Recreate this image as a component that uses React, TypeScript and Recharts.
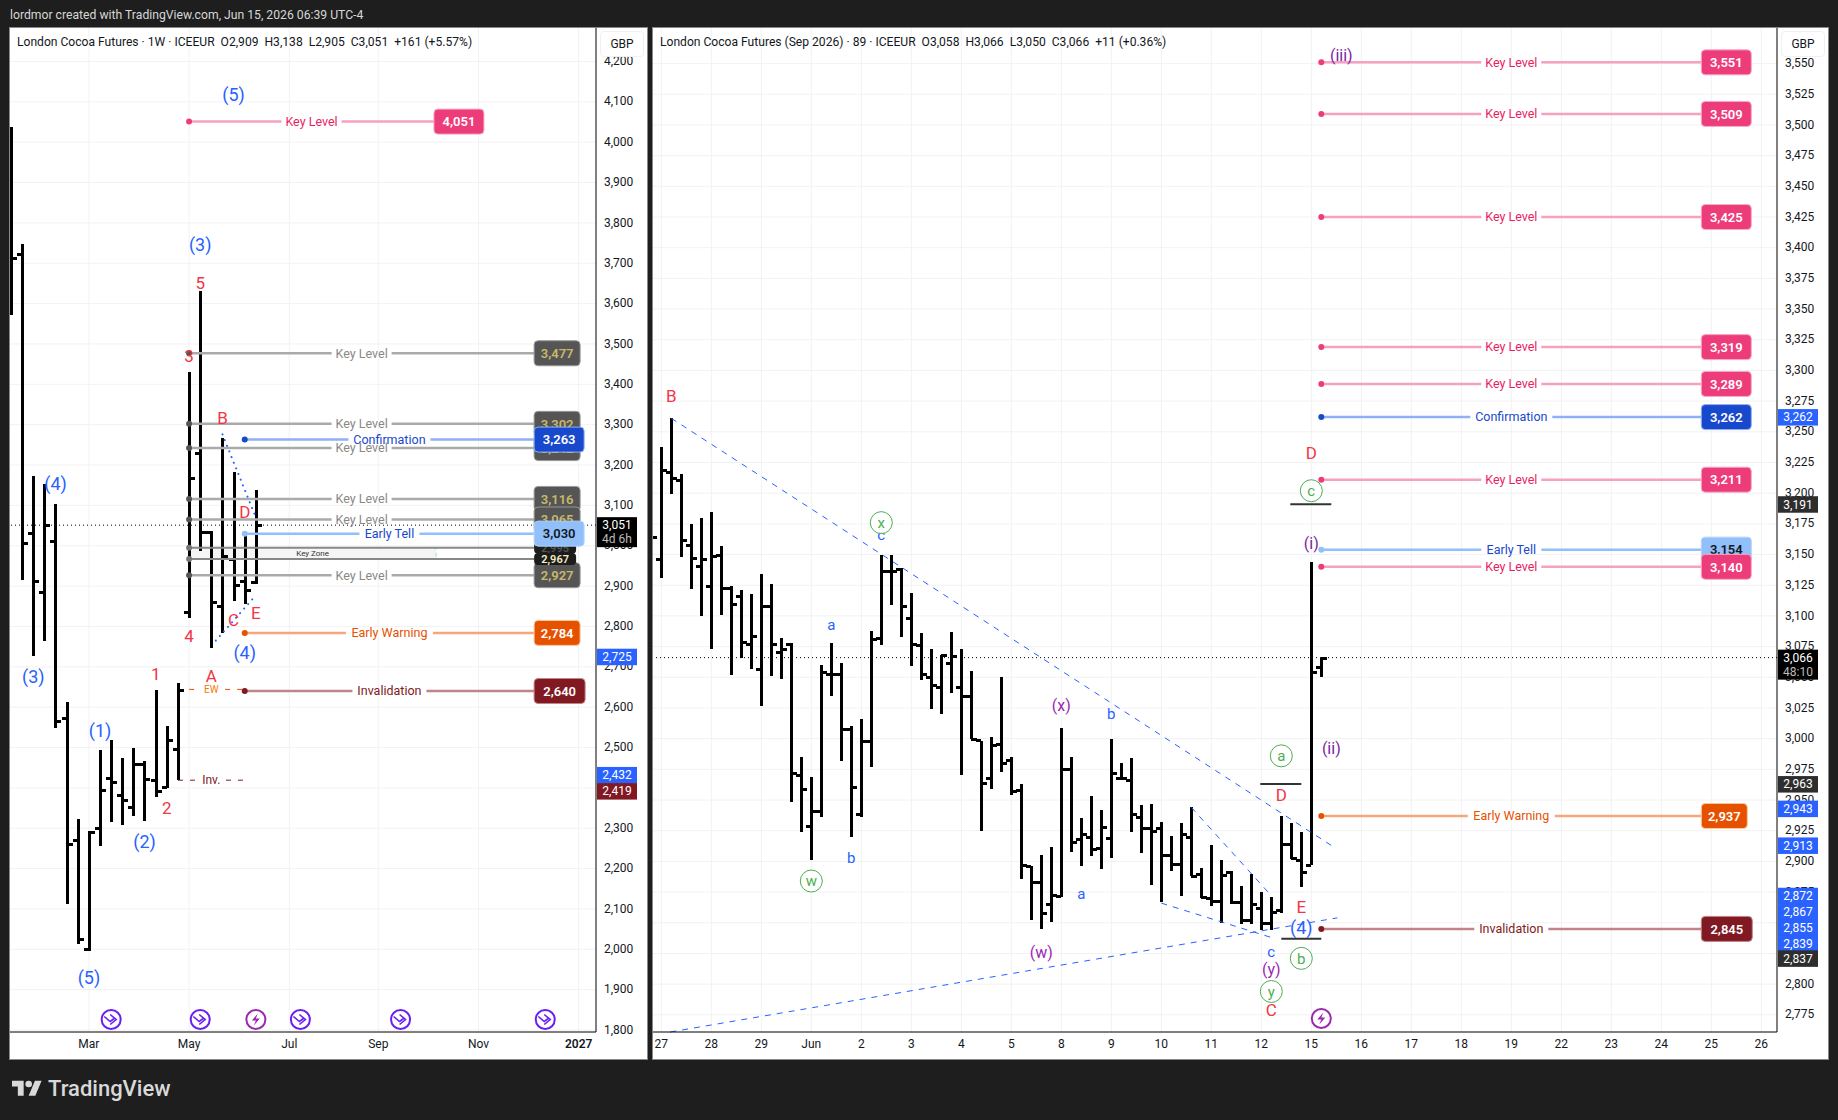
import React from "react";
import {
  Bar,
  CartesianGrid,
  ComposedChart,
  ReferenceArea,
  ReferenceDot,
  ReferenceLine,
  XAxis,
  YAxis
} from "recharts";

const FONT = "Roboto, sans-serif";

// weekly bars, left pane
const leftOpen = [3900, 3723, 3031, 2885, 3011, 2572, 2270, 2000, 2300, 2424, 2382, 2352, 2459, 2420, 2401, 2496, 2835, 3229, 3033, 2850, 2966, 2913, 2909];
const leftHigh = [4038, 3748, 3173, 3153, 3103, 2612, 2322, 2294, 2493, 2518, 2473, 2500, 2466, 2643, 2553, 2659, 3431, 3631, 3037, 3266, 3182, 3033, 3138];
const leftLow = [3572, 2915, 2728, 2765, 2549, 2111, 2012, 1995, 2257, 2316, 2309, 2331, 2319, 2378, 2399, 2419, 2822, 2988, 2746, 2783, 2864, 2856, 2905];
const leftClose = [3712, 3006, 2913, 3051, 2565, 2260, 2025, 2291, 2395, 2414, 2370, 2459, 2422, 2392, 2519, 2643, 3167, 3033, 2860, 2975, 2902, 2890, 3051];

// 89 minute bars, right pane (first one sits just off the left edge)
const rightOpen = [3170, 3146, 3217, 3211, 3158, 3141, 3124, 3150, 3123, 3116, 3077, 3057, 3108, 3071, 3077, 2970, 2929, 2941, 3053, 3053, 3008, 2939, 2998, 3082, 3137, 3138, 3098, 3076, 3050, 3042, 3062, 3042, 3035, 2999, 2968, 2996, 2983, 2958, 2896, 2883, 2865, 2872, 2975, 2918, 2920, 2911, 2919, 2968, 2966, 2936, 2927, 2927, 2905, 2898, 2920, 2890, 2870, 2868, 2891, 2867, 2852, 2862, 2850, 2860, 2914, 2901, 2897, 3058];
const rightHigh = [3175, 3238, 3261, 3216, 3175, 3180, 3185, 3157, 3124, 3121, 3118, 3134, 3126, 3082, 3078, 2985, 2969, 3060, 3078, 3062, 3010, 3016, 3088, 3150, 3150, 3139, 3119, 3086, 3073, 3068, 3087, 3073, 3055, 2998, 3001, 3050, 2985, 2963, 2896, 2905, 2912, 3009, 2985, 2935, 2953, 2942, 3000, 2980, 2984, 2946, 2947, 2932, 2921, 2931, 2944, 2895, 2913, 2901, 2892, 2880, 2890, 2875, 2871, 2937, 2931, 2924, 3144, 3066];
const rightLow = [3150, 3131, 3199, 3148, 3122, 3100, 3073, 3101, 3052, 3066, 3057, 3027, 3051, 3049, 2948, 2924, 2901, 2936, 3035, 2982, 2920, 2936, 2977, 3076, 3109, 3083, 3059, 3048, 3024, 3020, 3037, 2970, 3000, 2925, 2959, 2973, 2954, 2886, 2852, 2845, 2851, 2871, 2908, 2896, 2904, 2894, 2903, 2966, 2924, 2907, 2881, 2867, 2892, 2872, 2888, 2870, 2864, 2850, 2865, 2849, 2849, 2844, 2844, 2858, 2902, 2879, 2897, 3050];
const rightClose = [3164, 3219, 3212, 3162, 3147, 3146, 3149, 3123, 3110, 3079, 3084, 3108, 3077, 3073, 2972, 2959, 2941, 3054, 3053, 3008, 2961, 2998, 3081, 3137, 3137, 3108, 3077, 3053, 3044, 3068, 3067, 3035, 3000, 2964, 2995, 2980, 2957, 2897, 2883, 2858, 2873, 2975, 2916, 2922, 2910, 2928, 2972, 2968, 2939, 2927, 2925, 2905, 2898, 2922, 2888, 2871, 2868, 2889, 2867, 2852, 2865, 2850, 2859, 2914, 2903, 2891, 3054, 3066];

const leftPriceTicks = [1800, 1900, 2000, 2100, 2200, 2300, 2400, 2500, 2600, 2700, 2800, 2900, 3000, 3100, 3200, 3300, 3400, 3500, 3600, 3700, 3800, 3900, 4000, 4100, 4200];
const rightPriceTicks = [2775, 2800, 2825, 2850, 2875, 2900, 2925, 2950, 2975, 3000, 3025, 3050, 3075, 3100, 3125, 3150, 3175, 3200, 3225, 3250, 3275, 3300, 3325, 3350, 3375, 3400, 3425, 3450, 3475, 3500, 3525, 3550];

const leftTimeTicks = [7, 16, 25, 33, 42, 51];
const leftTimeLabels = ["Mar", "May", "Jul", "Sep", "Nov", "2027"];
const rightTimeTicks = [0, 5, 10, 15, 20, 25, 30, 35, 40, 45, 50, 55, 60, 65, 70, 75, 80, 85, 90, 95, 100, 105, 110];
const rightTimeLabels = ["27", "28", "29", "Jun", "2", "3", "4", "5", "8", "9", "10", "11", "12", "15", "16", "17", "18", "19", "22", "23", "24", "25", "26"];

// [price, name]
const leftGreyLevels = [3477, 3302, 3242, 3116, 3065, 2927];
const leftLevels: [number, string][] = [
  [4051, "Key Level"],
  [3263, "Confirmation"],
  [3030, "Early Tell"],
  [2784, "Early Warning"],
  [2640, "Invalidation"]
];
const rightLevels: [number, string][] = [
  [3551, "Key Level"],
  [3509, "Key Level"],
  [3425, "Key Level"],
  [3319, "Key Level"],
  [3289, "Key Level"],
  [3262, "Confirmation"],
  [3211, "Key Level"],
  [3154, "Early Tell"],
  [3140, "Key Level"],
  [2937, "Early Warning"],
  [2845, "Invalidation"]
];
const keyZone = [2967, 2995];

// [text, bar, price]
type Note = [string, number, number];
const leftBlueNotes: Note[] = [["(5)", 20, 4117], ["(3)", 17, 3747], ["(4)", 4, 3153], ["(3)", 2, 2676], ["(4)", 21, 2734], ["(1)", 8, 2542], ["(2)", 12, 2266], ["(5)", 7, 1929]];
const leftRedNotes: Note[] = [["5", 17, 3651], ["3", 16, 3470], ["B", 19, 3317], ["D", 21, 3084], ["C", 20, 2816], ["E", 22, 2833], ["4", 16, 2776], ["A", 18, 2677], ["1", 13, 2681], ["2", 14, 2350]];
const rightBlueNotes: Note[] = [["c", 22, 3166], ["a", 17, 3093], ["b", 19, 2903], ["b", 45, 3020], ["a", 42, 2874], ["c", 61, 2826]];
const rightBlueLarge: Note[] = [["(4)", 64, 2846]];
const rightRedNotes: Note[] = [["B", 1, 3279], ["D", 65, 3233], ["D", 62, 2954], ["E", 64, 2863], ["C", 61, 2779]];
const rightPurpleNotes: Note[] = [["(x)", 40, 3027], ["(w)", 38, 2826], ["(y)", 61, 2812]];
const rightVioletNotes: Note[] = [["(i)", 65, 3159], ["(ii)", 67, 2992], ["(iii)", 68, 3557]];
const rightCircled: Note[] = [["x", 22, 3176], ["w", 15, 2884], ["c", 65, 3202], ["a", 62, 2986], ["b", 64, 2821], ["y", 61, 2794]];

const leftEvents = [9, 17, 26, 35, 48];
const leftBolts = [22];
const rightBolts = [66];
const leftEventPrice = 1826;
const rightEventPrice = 2772;

// [bar from, price from, bar to, price to]
type Seg = [number, number, number, number];
const rightDashed: Seg[] = [[1, 3261, 67, 2913], [0.9, 2761, 67.6, 2854], [53, 2944, 60.9, 2873], [50, 2866, 61, 2838]];
const leftDotted: Seg[] = [[19, 3276, 22, 3070], [18.4, 2765, 21.8, 2871]];
const rightShortLines: Seg[] = [[62.9, 3191, 67, 3191], [59.9, 2963, 64, 2963], [62, 2837, 66, 2837]];

// [text, price where the tag sits, colour]
const leftTags: [string, number, string][] = [["2,725", 2725, "#2962ff"], ["2,432", 2432, "#2962ff"], ["2,419", 2392, "#801922"]];
const rightTags: [string, number, string][] = [
  ["3,262", 3262, "#2962ff"],
  ["3,191", 3191, "#2e2e2e"],
  ["2,963", 2963, "#2e2e2e"],
  ["2,943", 2943, "#2962ff"],
  ["2,913", 2913, "#2962ff"],
  ["2,872", 2872, "#2962ff"],
  ["2,867", 2859, "#2962ff"],
  ["2,855", 2846, "#2962ff"],
  ["2,839", 2833, "#2962ff"],
  ["2,837", 2821, "#2e2e2e"]
];

const levelStyle: Record<string, any> = {
  pink: { pill: "#ec3c7a", border: "#f9a8c6", line: "#f8a0bf", text: "#e91e63", value: "#fff", w: 50, gap: 60 },
  grey: { pill: "#555555", border: "#999", line: "#aaaaaa", text: "#888888", value: "#c9b968", w: 46, gap: 60 },
  "Confirmation": { pill: "#1848cc", border: "#8fb0f5", line: "#8fb0f5", text: "#1848cc", value: "#fff", w: 50, gap: 82 },
  "Early Tell": { pill: "#90bff9", border: "#b5d4fb", line: "#90bff9", text: "#1848cc", value: "#131722", w: 50, gap: 60 },
  "Early Warning": { pill: "#e65100", border: "#f9c79f", line: "#f5a67b", text: "#e65100", value: "#fff", w: 46, gap: 87 },
  "Invalidation": { pill: "#801922", border: "#c08589", line: "#c08589", text: "#801922", value: "#fff", w: 51, gap: 74 }
};

const rows = (o: number[], h: number[], l: number[], c: number[], first: number) =>
  o.map((open, k) => ({ i: first + k, open, high: h[k], low: l[k], close: c[k], range: [l[k], h[k]] }));

const fmt = (v: number) => v.toLocaleString("en-US");

function OhlcBar(props: any) {
  const { x, width, y, height, payload } = props;
  const cx = Math.round(x + width / 2);
  const top = Math.min(y, y + height);
  const span = Math.abs(height);
  const at = (v: number) => Math.round(top + ((payload.high - v) / (payload.high - payload.low)) * span);
  return (
    <g shapeRendering="crispEdges" fill="#000">
      <rect x={cx - 1.5} y={top} width={3} height={span} />
      <rect x={cx - 5} y={at(payload.open) - 1} width={5} height={3} />
      <rect x={cx} y={at(payload.close) - 1} width={6} height={3} />
    </g>
  );
}

function textNotes(notes: Note[], color: string, size: number, key: string, gap = 0) {
  return notes.map(([t, x, y], k) => (
    <ReferenceDot
      key={key + k}
      x={x}
      y={y}
      ifOverflow="visible"
      shape={(p: any) => (
        <g>
          {gap > 0 && <rect x={p.cx - gap / 2} y={p.cy - 3} width={gap} height={6} fill="#fff" />}
          <text x={p.cx} y={p.cy} dy="0.35em" textAnchor="middle" fontFamily={FONT} fontSize={size} fill={color}>
            {t}
          </text>
        </g>
      )}
    />
  ));
}

function circledNotes(notes: Note[]) {
  return notes.map(([t, x, y], k) => (
    <ReferenceDot
      key={"circ" + k}
      x={x}
      y={y}
      ifOverflow="visible"
      shape={(p: any) => (
        <g>
          <circle cx={p.cx} cy={p.cy} r={11} fill="#fff" fillOpacity={0.85} stroke="#4caf50" strokeWidth={1} />
          <text x={p.cx} y={p.cy} dy="0.35em" textAnchor="middle" fontFamily={FONT} fontSize={15} fill="#4caf50">
            {t}
          </text>
        </g>
      )}
    />
  ));
}

function eventIcons(bars: number[], price: number, bolt: boolean) {
  const color = bolt ? "#9c27b0" : "#6a1ff0";
  return bars.map((x, k) => (
    <ReferenceDot
      key={(bolt ? "bolt" : "evt") + k}
      x={x}
      y={price}
      ifOverflow="visible"
      shape={(p: any) => (
        <g transform={`translate(${p.cx},${p.cy})`} fill="none" stroke={color}>
          <circle r={9.5} strokeWidth={2} fill="#fff" />
          {bolt ? (
            <path d="M2,-6 L-4,1 L0,1 L-2,6 L4,-1 L0,-1 Z" fill={color} stroke="none" />
          ) : (
            <path d="M-7,-3 L-1,2 L3,-1 M-1,-5 L5,0 L-1,5" strokeWidth={1.6} />
          )}
        </g>
      )}
    />
  ));
}

function segments(segs: Seg[], color: string, width: number, dash: string | undefined, key: string, cap?: any) {
  return segs.map(([x1, y1, x2, y2], k) => (
    <ReferenceLine
      key={key + k}
      segment={[{ x: x1, y: y1 }, { x: x2, y: y2 }]}
      stroke={color}
      strokeWidth={width}
      strokeDasharray={dash}
      strokeLinecap={cap}
      ifOverflow="visible"
    />
  ));
}

function level(price: number, name: string, kind: string, from: number, to: number, key: string) {
  const s = levelStyle[kind];
  return [
    <ReferenceLine
      key={key + "l"}
      segment={[{ x: from, y: price }, { x: to, y: price }]}
      stroke={s.line}
      strokeWidth={2.5}
      ifOverflow="visible"
    />,
    <ReferenceDot
      key={key + "t"}
      x={(from + to) / 2}
      y={price}
      ifOverflow="visible"
      shape={(p: any) => (
        <g>
          <rect x={p.cx - s.gap / 2} y={p.cy - 3} width={s.gap} height={6} fill="#fff" />
          <text x={p.cx} y={p.cy} dy="0.35em" textAnchor="middle" fontFamily={FONT} fontSize={12.5} fill={s.text}>
            {name}
          </text>
        </g>
      )}
    />,
    <ReferenceDot key={key + "d"} x={from} y={price} r={3} fill={s.pill} stroke="none" ifOverflow="visible" />,
    <ReferenceDot
      key={key + "p"}
      x={to}
      y={price}
      ifOverflow="visible"
      shape={(p: any) => (
        <g>
          <rect x={p.cx} y={p.cy - 12.5} width={s.w} height={25} rx={4} fill={s.pill} stroke={s.border} strokeWidth={1} />
          <text x={p.cx + s.w / 2} y={p.cy} dy="0.36em" textAnchor="middle" fontFamily={FONT} fontWeight={600} fontSize={13} fill={s.value}>
            {fmt(price)}
          </text>
        </g>
      )}
    />
  ];
}

function zoneLevel(price: number, from: number, to: number, value: string, key: string) {
  return [
    <ReferenceLine
      key={key + "l"}
      segment={[{ x: from, y: price }, { x: to, y: price }]}
      stroke="#888888"
      strokeWidth={2}
      ifOverflow="visible"
    />,
    <ReferenceDot key={key + "d"} x={from} y={price} r={3} fill="#777" stroke="none" ifOverflow="visible" />,
    <ReferenceDot
      key={key + "p"}
      x={to}
      y={price}
      ifOverflow="visible"
      shape={(p: any) => (
        <g>
          <rect x={p.cx} y={p.cy - 6} width={42} height={12} rx={4} fill="#1c1c1c" />
          <text x={p.cx + 21} y={p.cy} dy="0.36em" textAnchor="middle" fontFamily={FONT} fontWeight={600} fontSize={11} fill={value}>
            {fmt(price)}
          </text>
        </g>
      )}
    />
  ];
}

function axisTags(tags: [string, number, string][], atX: number) {
  return tags.map(([t, y, color], k) => (
    <ReferenceDot
      key={"tag" + k}
      x={atX}
      y={y}
      ifOverflow="visible"
      zIndex={2000}
      shape={(p: any) => (
        <g>
          <rect x={p.cx + 1} y={p.cy - 8} width={40} height={16.5} fill={color} />
          <text x={p.cx + 21} y={p.cy} dy="0.36em" textAnchor="middle" fontFamily={FONT} fontSize={12} fill="#fff">
            {t}
          </text>
        </g>
      )}
    />
  ));
}

function closeTag(price: number, countdown: string, atX: number) {
  return (
    <ReferenceDot
      key="closeTag"
      x={atX}
      y={price}
      ifOverflow="visible"
      zIndex={2000}
      shape={(p: any) => (
        <g fontFamily={FONT} fontSize={12} textAnchor="middle">
          <rect x={p.cx + 1} y={p.cy - 8} width={40} height={30} fill="#000" />
          <text x={p.cx + 21} y={p.cy} dy="0.36em" fill="#fff">
            {fmt(price)}
          </text>
          <text x={p.cx + 21} y={p.cy + 14} dy="0.36em" fill="#bbb">
            {countdown}
          </text>
        </g>
      )}
    />
  );
}

function timeTick(ticks: number[], labels: string[]) {
  return (p: any) => {
    const t = labels[ticks.indexOf(p.payload.value)];
    return (
      <text x={p.x} y={p.y + 14} textAnchor="middle" fontFamily={FONT} fontSize={12} fontWeight={t === "2027" ? 600 : 400} fill="#131722">
        {t}
      </text>
    );
  };
}

const priceTick = (p: any) => (
  <text x={p.x} y={p.y} dy="0.3em" textAnchor="start" fontFamily={FONT} fontSize={12} fill="#131722">
    {fmt(p.payload.value)}
  </text>
);

function Pane(props: any) {
  const { left, width, xDomain, yDomain, xTicks, xLabels, yTicks, data, children } = props;
  return (
    <div style={{ position: "absolute", left, top: 28, width, height: 1031, background: "#fff", outline: "1px solid #888" }}>
      <ComposedChart width={width} height={1031} data={data} margin={{ top: 0, right: 0, bottom: 0, left: 0 }}>
        <CartesianGrid stroke="#f2f2f2" syncWithTicks />
        <XAxis
          type="number"
          dataKey="i"
          domain={xDomain}
          ticks={xTicks}
          interval={0}
          allowDataOverflow
          height={27}
          tickLine={false}
          tickSize={0}
          axisLine={{ stroke: "#000", strokeWidth: 1 }}
          tick={timeTick(xTicks, xLabels)}
        />
        <YAxis
          orientation="right"
          type="number"
          width={51}
          domain={yDomain}
          ticks={yTicks}
          interval={0}
          allowDataOverflow
          tickLine={false}
          tickSize={0}
          tickMargin={8}
          zIndex={100}
          axisLine={{ stroke: "#000", strokeWidth: 1 }}
          tick={priceTick}
        />
        {children}
        <Bar dataKey="range" barSize={3} shape={OhlcBar} isAnimationActive={false} />
      </ComposedChart>
      <div
        style={{
          position: "absolute",
          right: 3,
          top: 3,
          width: 44,
          height: 26,
          textAlign: "center",
          font: "12px/24px " + FONT,
          color: "#131722",
          background: "#fff",
          border: "1px solid #f0f0f0",
          borderRadius: 4,
          boxSizing: "border-box"
        }}
      >
        GBP
      </div>
      <div style={{ position: "absolute", left: 7, top: 7, font: "12.1px/15px " + FONT, color: "#131722", whiteSpace: "pre" }}>
        {props.title}
      </div>
    </div>
  );
}

export default function App() {
  const leftData = rows(leftOpen, leftHigh, leftLow, leftClose, 0);
  const rightData = rows(rightOpen, rightHigh, rightLow, rightClose, -1);
  return (
    <div style={{ position: "fixed", left: 0, top: 0, width: 1838, height: 1120, background: "#1e1e1e", overflow: "hidden" }}>
      <div style={{ position: "absolute", left: 10, top: 8, font: "12.2px/15px " + FONT, color: "#d6d6d6" }}>
        lordmor created with TradingView.com, Jun 15, 2026 06:39 UTC-4
      </div>

      <Pane
        left={10}
        width={637}
        xDomain={[-0.09, 52.56]}
        yDomain={[1795, 4283]}
        xTicks={leftTimeTicks}
        xLabels={leftTimeLabels}
        yTicks={leftPriceTicks}
        data={leftData}
        title={"London Cocoa Futures · 1W · ICEEUR  O2,909  H3,138  L2,905  C3,051  +161 (+5.57%)"}
      >
        <ReferenceLine y={3051} stroke="#000" strokeDasharray="1 3" />
        <ReferenceArea x1={16} x2={38.2} y1={keyZone[0]} y2={keyZone[1]} fill="#f5f5f5" fillOpacity={1} stroke="#a5dee5" strokeDasharray="4 3" />
        {leftGreyLevels.map((v, k) => level(v, "Key Level", "grey", 16, 47, "g" + k))}
        {zoneLevel(keyZone[1], 16, 47, "#555", "z1")}
        {zoneLevel(keyZone[0], 16, 47, "#f5eec0", "z0")}
        <ReferenceDot
          x={27.1}
          y={(keyZone[0] + keyZone[1]) / 2}
          ifOverflow="visible"
          shape={(p: any) => (
            <text x={p.cx} y={p.cy} dy="0.35em" textAnchor="middle" fontFamily={FONT} fontSize={8} fill="#333">
              Key Zone
            </text>
          )}
        />
        {segments([[16, 2644, 21, 2644]], "#e65100", 1, "5 7", "ew")}
        {segments([[15, 2419, 21, 2419]], "#801922", 1, "5 7", "inv")}
        {textNotes([["EW", 18, 2644]], "#f57c00", 10, "ewt", 22)}
        {textNotes([["Inv.", 18, 2419]], "#801922", 12, "invt", 28)}
        {segments(leftDotted, "#2962ff", 2, "0.1 6", "dot", "round")}
        {leftLevels.map(([v, n], k) =>
          level(v, n, n === "Key Level" ? "pink" : n, n === "Key Level" ? 16 : 21, n === "Key Level" ? 38 : 47, "l" + k)
        )}
        {textNotes(leftBlueNotes, "#2962ff", 18, "lb")}
        {textNotes(leftRedNotes, "#f23645", 17, "lr")}
        {eventIcons(leftEvents, leftEventPrice, false)}
        {eventIcons(leftBolts, leftEventPrice, true)}
        {axisTags(leftTags, 52.56)}
        {closeTag(3051, "4d 6h", 52.56)}
      </Pane>

      <Pane
        left={653}
        width={1175}
        xDomain={[-0.83, 111.57]}
        yDomain={[2761, 3579]}
        xTicks={rightTimeTicks}
        xLabels={rightTimeLabels}
        yTicks={rightPriceTicks}
        data={rightData}
        title={"London Cocoa Futures (Sep 2026) · 89 · ICEEUR  O3,058  H3,066  L3,050  C3,066  +11 (+0.36%)"}
      >
        <ReferenceLine y={3066} stroke="#000" strokeDasharray="1 3" />
        {segments(rightDashed, "#2962ff", 1, "6 6", "rd")}
        {segments(rightShortLines, "#333333", 2, undefined, "rs")}
        {rightLevels.map(([v, n], k) => level(v, n, n === "Key Level" ? "pink" : n, 66, 104, "r" + k))}
        {textNotes(rightBlueNotes, "#2962ff", 15, "rb")}
        {textNotes(rightBlueLarge, "#2962ff", 18, "rbl")}
        {textNotes(rightRedNotes, "#f23645", 17, "rr")}
        {textNotes(rightPurpleNotes, "#9c27b0", 16, "rp")}
        {textNotes(rightVioletNotes, "#7b1fa2", 16, "rv")}
        {circledNotes(rightCircled)}
        {eventIcons(rightBolts, rightEventPrice, true)}
        {axisTags(rightTags, 111.57)}
        {closeTag(3066, "48:10", 111.57)}
      </Pane>

      <svg style={{ position: "absolute", left: 12, top: 1077 }} width={30} height={24} viewBox="0 0 36 28" fill="#d9d9d9">
        <path d="M14 22H7V11H0V4h14v18zM28 22h-8l7.5-18h8L28 22z" />
        <circle cx={20} cy={8} r={4} />
      </svg>
      <div style={{ position: "absolute", left: 48, top: 1076, font: "500 22px/26px " + FONT, color: "#d9d9d9" }}>TradingView</div>
    </div>
  );
}
